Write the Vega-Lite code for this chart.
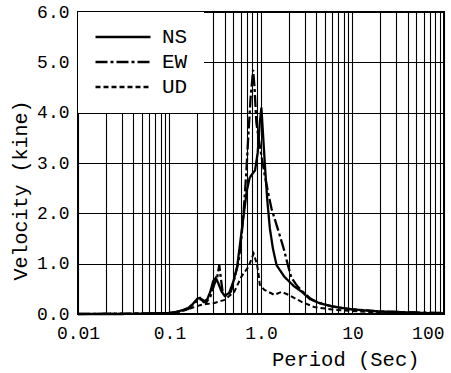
{
  "$schema": "https://vega.github.io/schema/vega-lite/v6.json",
  "width": 366,
  "height": 302,
  "padding": {"left": 10, "top": 3, "right": 8, "bottom": 5},
  "background": "white",
  "config": {
    "view": {"stroke": "black", "strokeWidth": 2},
    "font": "Liberation Mono"
  },
  "datasets": {
    "ns": [
      {"T": 0.01, "v": 0}, {"T": 0.03, "v": 0}, {"T": 0.06, "v": 0.01}, {"T": 0.1, "v": 0.02},
      {"T": 0.12, "v": 0.04}, {"T": 0.14, "v": 0.08}, {"T": 0.16, "v": 0.12}, {"T": 0.18, "v": 0.2},
      {"T": 0.2, "v": 0.3}, {"T": 0.215, "v": 0.32}, {"T": 0.235, "v": 0.24}, {"T": 0.26, "v": 0.3},
      {"T": 0.28, "v": 0.45}, {"T": 0.3, "v": 0.65}, {"T": 0.32, "v": 0.72}, {"T": 0.34, "v": 0.62},
      {"T": 0.37, "v": 0.45}, {"T": 0.4, "v": 0.36}, {"T": 0.45, "v": 0.42}, {"T": 0.5, "v": 0.65},
      {"T": 0.55, "v": 0.95}, {"T": 0.6, "v": 1.5}, {"T": 0.65, "v": 2.0}, {"T": 0.7, "v": 2.45},
      {"T": 0.75, "v": 2.7}, {"T": 0.8, "v": 2.78}, {"T": 0.86, "v": 2.85}, {"T": 0.92, "v": 3.2},
      {"T": 0.97, "v": 3.8}, {"T": 1.01, "v": 4.1}, {"T": 1.05, "v": 3.6}, {"T": 1.1, "v": 3.0},
      {"T": 1.17, "v": 2.27}, {"T": 1.25, "v": 1.7}, {"T": 1.35, "v": 1.3}, {"T": 1.48, "v": 0.97},
      {"T": 1.8, "v": 0.74}, {"T": 2.3, "v": 0.55}, {"T": 2.8, "v": 0.44}, {"T": 3.4, "v": 0.3},
      {"T": 4.3, "v": 0.22}, {"T": 6.0, "v": 0.15}, {"T": 10, "v": 0.09}, {"T": 20, "v": 0.05},
      {"T": 40, "v": 0.03}, {"T": 100, "v": 0.01}
    ],
    "ew": [
      {"T": 0.01, "v": 0}, {"T": 0.06, "v": 0.01}, {"T": 0.1, "v": 0.02}, {"T": 0.13, "v": 0.05},
      {"T": 0.16, "v": 0.1}, {"T": 0.19, "v": 0.22}, {"T": 0.21, "v": 0.3}, {"T": 0.23, "v": 0.28},
      {"T": 0.25, "v": 0.22}, {"T": 0.28, "v": 0.35}, {"T": 0.31, "v": 0.6}, {"T": 0.33, "v": 0.7},
      {"T": 0.35, "v": 0.97}, {"T": 0.365, "v": 0.7}, {"T": 0.38, "v": 0.45}, {"T": 0.42, "v": 0.35},
      {"T": 0.47, "v": 0.45}, {"T": 0.52, "v": 0.75}, {"T": 0.57, "v": 1.05}, {"T": 0.61, "v": 1.5},
      {"T": 0.65, "v": 2.1}, {"T": 0.69, "v": 2.8}, {"T": 0.73, "v": 3.6}, {"T": 0.77, "v": 4.3},
      {"T": 0.82, "v": 4.85}, {"T": 0.85, "v": 4.5}, {"T": 0.89, "v": 3.8}, {"T": 0.95, "v": 3.45},
      {"T": 1.0, "v": 3.2}, {"T": 1.1, "v": 2.75}, {"T": 1.2, "v": 2.4}, {"T": 1.3, "v": 2.1},
      {"T": 1.55, "v": 1.65}, {"T": 1.77, "v": 1.3}, {"T": 1.95, "v": 1.0}, {"T": 2.15, "v": 0.72},
      {"T": 2.5, "v": 0.55}, {"T": 2.8, "v": 0.46}, {"T": 3.5, "v": 0.3}, {"T": 4.3, "v": 0.22},
      {"T": 6.0, "v": 0.15}, {"T": 8, "v": 0.11}, {"T": 12, "v": 0.08}, {"T": 20, "v": 0.05},
      {"T": 50, "v": 0.03}, {"T": 100, "v": 0.02}
    ],
    "ud": [
      {"T": 0.01, "v": 0}, {"T": 0.06, "v": 0.01}, {"T": 0.1, "v": 0.02}, {"T": 0.15, "v": 0.08},
      {"T": 0.22, "v": 0.18}, {"T": 0.31, "v": 0.22}, {"T": 0.4, "v": 0.28}, {"T": 0.51, "v": 0.44},
      {"T": 0.61, "v": 0.74}, {"T": 0.73, "v": 0.94}, {"T": 0.83, "v": 1.2}, {"T": 0.9, "v": 1.0},
      {"T": 0.94, "v": 0.8}, {"T": 0.97, "v": 0.58}, {"T": 1.09, "v": 0.48}, {"T": 1.4, "v": 0.38},
      {"T": 1.68, "v": 0.44}, {"T": 2.0, "v": 0.38}, {"T": 2.78, "v": 0.24}, {"T": 3.8, "v": 0.14},
      {"T": 6.4, "v": 0.08}, {"T": 15, "v": 0.04}, {"T": 40, "v": 0.02}, {"T": 100, "v": 0.01}
    ]
  },
  "layer": [
    {
      "data": {"name": "ns"},
      "transform": [{"calculate": "'NS'", "as": "series"}],
      "mark": {"type": "line", "color": "black", "strokeWidth": 2.3},
      "encoding": {
        "x": {"field": "T", "type": "quantitative"},
        "y": {"field": "v", "type": "quantitative"},
        "strokeDash": {"field": "series", "type": "nominal"}
      }
    },
    {
      "data": {"name": "ew"},
      "transform": [{"calculate": "'EW'", "as": "series"}],
      "mark": {"type": "line", "color": "black", "strokeWidth": 2.3},
      "encoding": {
        "x": {"field": "T", "type": "quantitative"},
        "y": {"field": "v", "type": "quantitative"},
        "strokeDash": {"field": "series", "type": "nominal"}
      }
    },
    {
      "data": {"name": "ud"},
      "transform": [{"calculate": "'UD'", "as": "series"}],
      "mark": {"type": "line", "color": "black", "strokeWidth": 2},
      "encoding": {
        "x": {
          "field": "T", "type": "quantitative",
          "scale": {"type": "log", "domain": [0.01, 100], "nice": false},
          "axis": {
            "values": [0.01, 0.02, 0.03, 0.04, 0.05, 0.06, 0.07, 0.08, 0.09, 0.1, 0.2, 0.3, 0.4, 0.5, 0.6, 0.7, 0.8, 0.9, 1, 2, 3, 4, 5, 6, 7, 8, 9, 10, 20, 30, 40, 50, 60, 70, 80, 90, 100],
            "labelExpr": "datum.value == 0.01 ? '0.01' : datum.value == 0.1 ? '0.1' : datum.value == 1 ? '1.0' : datum.value == 10 ? '10' : datum.value == 100 ? '100' : ''",
            "labelAlign": {"condition": {"test": "datum.value == 100", "value": "right"}, "value": "center"},
            "grid": true, "gridColor": "black", "gridWidth": 1.1, "gridOpacity": 1,
            "domain": false, "ticks": false, "tickSize": 0,
            "labelFont": "Liberation Mono", "labelFontSize": 18, "labelColor": "black", "labelPadding": 10,
            "labelOverlap": false, "labelBound": false, "labelFlush": false,
            "title": "Period (Sec)", "titleFont": "Liberation Mono", "titleFontSize": 20.5, "titleFontWeight": "normal",
            "titleColor": "black", "titleAnchor": "end", "titleX": 341, "titlePadding": 7
          }
        },
        "y": {
          "field": "v", "type": "quantitative",
          "scale": {"domain": [0, 6], "nice": false},
          "axis": {
            "values": [0, 1, 2, 3, 4, 5, 6], "format": ".1f",
            "grid": true, "gridColor": "black", "gridWidth": 1.1, "gridOpacity": 1,
            "domain": false, "ticks": false, "tickSize": 0,
            "labelFont": "Liberation Mono", "labelFontSize": 18, "labelColor": "black", "labelPadding": 9,
            "title": "Velocity (kine)", "titleFont": "Liberation Mono", "titleFontSize": 20, "titleFontWeight": "normal",
            "titleColor": "black", "titleAnchor": "start", "titleY": 268, "titlePadding": 6
          }
        },
        "strokeDash": {
          "field": "series", "type": "nominal",
          "scale": {"domain": ["NS", "EW", "UD"], "range": [[1, 0], [12, 3, 3, 3], [5, 3]]},
          "legend": {
            "title": null, "orient": "top-left", "offset": 0,
            "fillColor": "white",
            "padding": 16, "symbolType": "stroke", "symbolSize": 3025, "symbolStrokeWidth": 2.3,
            "symbolStrokeColor": "black", "clipHeight": 18, "rowPadding": 4,
            "labelFont": "Liberation Mono", "labelFontSize": 21, "labelColor": "black", "labelOffset": 10
          }
        }
      }
    }
  ]
}
